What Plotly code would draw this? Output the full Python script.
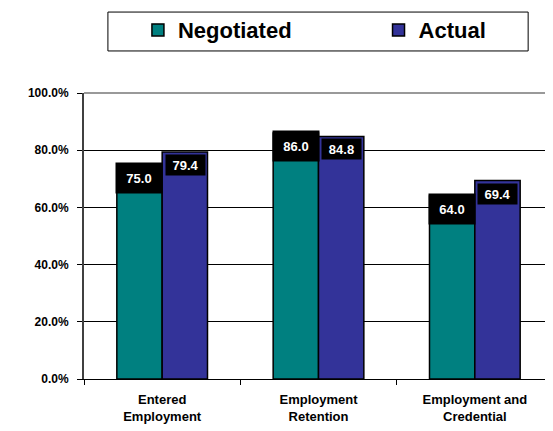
import plotly.graph_objects as go

categories = ["Entered<br>Employment", "Employment<br>Retention", "Employment and<br>Credential"]
negotiated = [75.0, 86.0, 64.0]
actual = [79.4, 84.8, 69.4]
y_ticks = [0, 20, 40, 60, 80, 100]

TEAL = "#008080"
BLUE = "#333399"

fig = go.Figure()
fig.add_trace(go.Bar(name="Negotiated", x=categories, y=negotiated, legend="legend",
                     marker=dict(color=TEAL, line=dict(color="black", width=1.5))))
fig.add_trace(go.Bar(name="Actual", x=categories, y=actual, legend="legend2",
                     marker=dict(color=BLUE, line=dict(color="black", width=1.5))))

lab_font = dict(family="Liberation Sans, Arial", size=13, color="white", weight="bold")
for c, v in zip(categories, negotiated):
    fig.add_annotation(x=c, y=v, xref="x", yref="y", text="%.1f" % v, showarrow=False,
                       xshift=-23, yanchor="top", yshift=3, bgcolor="black",
                       width=46, height=30, borderpad=0, font=lab_font)
for c, v in zip(categories, actual):
    fig.add_annotation(x=c, y=v, xref="x", yref="y", text="%.1f" % v, showarrow=False,
                       xshift=23, yanchor="top", yshift=-2, bgcolor="black",
                       width=39, height=20, borderpad=0, font=lab_font)

# top border of plot area and legend frame
fig.add_shape(type="line", xref="paper", yref="paper", x0=0, x1=1, y0=1, y1=1,
              line=dict(color="#999999", width=2))
fig.add_shape(type="rect", xref="paper", yref="paper", x0=0.051, x1=0.947,
              y0=1.147, y1=1.283, line=dict(color="black", width=1), fillcolor="white",
              layer="below")

leg_common = dict(orientation="h", yanchor="middle", xanchor="left", y=1.22,
                  borderwidth=0, bgcolor="rgba(0,0,0,0)",
                  font=dict(size=22, weight="bold"))

fig.update_layout(
    width=545, height=423,
    margin=dict(l=76, r=0, t=85, b=52),
    paper_bgcolor="white", plot_bgcolor="white",
    showlegend=True,
    barmode="group", bargap=0.42, bargroupgap=0,
    font=dict(family="Liberation Sans, Arial", color="black"),
    legend=dict(x=0.115, **leg_common),
    legend2=dict(x=0.628, **leg_common),
    xaxis=dict(showline=True, linecolor="black", linewidth=1, ticks="outside",
               tickson="boundaries", ticklen=5, tickcolor="black",
               tickfont=dict(size=13, weight="bold"), showgrid=False,
               ticklabelstandoff=8),
    yaxis=dict(range=[0, 100], tickvals=y_ticks, ticktext=["%.1f%%" % t for t in y_ticks],
               showgrid=True, gridcolor="black", gridwidth=1,
               showline=True, linecolor="#404040", linewidth=2, ticks="outside",
               ticklen=5, tickcolor="black", tickfont=dict(size=12, weight="bold"),
               zeroline=False, ticklabelstandoff=6),
)

fig.write_html("out.html")
